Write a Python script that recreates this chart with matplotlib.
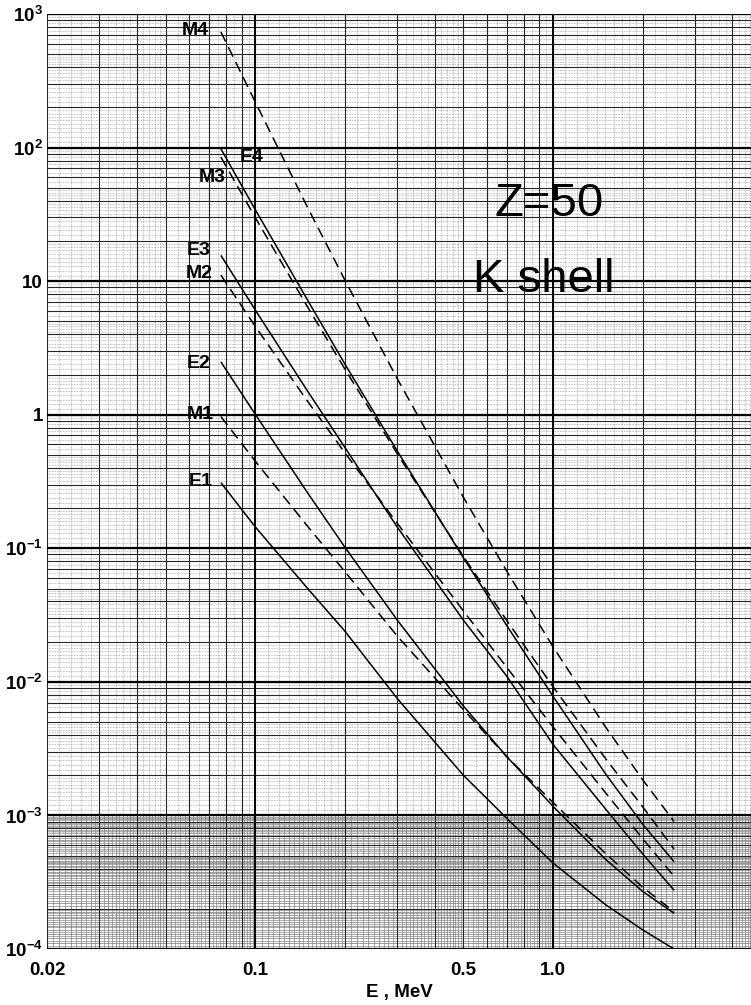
import numpy as np
import matplotlib
matplotlib.use("Agg")
import matplotlib.pyplot as plt

plt.rcParams['font.family'] = ['Liberation Sans', 'DejaVu Sans']
plt.rcParams['mathtext.fontset'] = 'custom'
plt.rcParams['mathtext.rm'] = 'Liberation Sans:bold'
plt.rcParams['mathtext.it'] = 'Liberation Sans:bold'
plt.rcParams['mathtext.bf'] = 'Liberation Sans:bold'

# K-shell internal conversion coefficients, Z = 50
energy = [0.0767, 0.1, 0.15, 0.2, 0.3, 0.5, 0.7, 1.0, 1.5, 2.0, 2.55]  # MeV

alpha_E1 = [0.31, 0.145, 0.050, 0.024, 0.0075, 0.0020, 9.5e-4, 4.4e-4, 2.15e-4, 1.39e-4, 1.0e-4]
alpha_E2 = [2.49, 1.01, 0.26, 0.102, 0.029, 6.6e-3, 2.75e-3, 1.17e-3, 4.7e-4, 2.7e-4, 1.85e-4]
alpha_E3 = [15.6, 6.1, 1.5, 0.57, 0.144, 0.029, 0.0110, 3.4e-3, 1.12e-3, 5.15e-4, 2.75e-4]
alpha_E4 = [98.0, 34.4, 7.2, 2.4, 0.535, 0.085, 0.0263, 7.8e-3, 2.05e-3, 8.6e-4, 4.5e-4]
alpha_M1 = [0.97, 0.45, 0.146, 0.067, 0.022, 6.2e-3, 2.75e-3, 1.25e-3, 5.2e-4, 2.9e-4, 1.9e-4]
alpha_M2 = [11.1, 4.6, 1.26, 0.52, 0.154, 0.034, 0.0128, 4.6e-3, 1.48e-3, 6.7e-4, 3.5e-4]
alpha_M3 = [85.0, 30.0, 6.4, 2.2, 0.51, 0.087, 0.0287, 9.2e-3, 2.67e-3, 1.16e-3, 5.6e-4]
alpha_M4 = [735.0, 220.0, 35.6, 10.2, 1.86, 0.241, 0.0672, 0.0183, 4.6e-3, 1.85e-3, 9.0e-4]

electric = {'E1': alpha_E1, 'E2': alpha_E2, 'E3': alpha_E3, 'E4': alpha_E4}
magnetic = {'M1': alpha_M1, 'M2': alpha_M2, 'M3': alpha_M3, 'M4': alpha_M4}

# curve label anchor positions (E, alpha)
label_pos = {
    'M4': (0.0628, 759.0), 'E4': (0.0975, 85.0), 'M3': (0.0716, 60.0),
    'E3': (0.0648, 17.1), 'M2': (0.0648, 11.5), 'E2': (0.0648, 2.44),
    'M1': (0.0654, 1.01), 'E1': (0.0656, 0.319),
}

y_ticks = [1e-4, 1e-3, 1e-2, 1e-1, 1, 10, 1e2, 1e3]
y_ticklabels = [r'10$^{-4}$', r'10$^{-3}$', r'10$^{-2}$', r'10$^{-1}$', '1', '10',
                r'10$^{2}$', r'10$^{3}$']
x_ticks = [0.02, 0.1, 0.5, 1.0]
x_ticklabels = ['0.02', '0.1', '0.5', '1.0']

fig = plt.figure(figsize=(7.51, 10.05), dpi=100)
ax = fig.add_axes([0.0626, 0.0557, 0.9374, 0.9303])
ax.set_xscale('log')
ax.set_yscale('log')
xlo, xhi = 0.02, 4.62
ylo, yhi = 1e-4, 1e3
ax.set_xlim(xlo, xhi)
ax.set_ylim(ylo, yhi)


def paper_values(lo, hi, fine_steps):
    """Rulings of log graph paper between lo and hi: (heavy, light) lists."""
    heavy, light = [], []
    for k in range(int(np.floor(np.log10(lo))) - 1, int(np.ceil(np.log10(hi))) + 1):
        base = 10.0 ** k
        for m in range(1, 10):
            heavy.append(m * base)
        for (a, b, s) in fine_steps:
            for m in np.arange(a, b - 1e-9, s):
                if abs(m - round(m)) > 1e-6:
                    light.append(m * base)
    heavy = [v for v in heavy if lo <= v <= hi]
    light = [v for v in light if lo <= v <= hi]
    return heavy, light


coarse = [(1.0, 2.0, 0.1), (2.0, 5.0, 0.2), (5.0, 10.0, 0.5)]
dense = [(1.0, 2.0, 0.05), (2.0, 5.0, 0.1), (5.0, 10.0, 0.2)]

# graph-paper ruling
xh, xl = paper_values(xlo, xhi, coarse)
yh, yl = paper_values(ylo, yhi, coarse)
ax.vlines(xl, ylo, yhi, colors='0.45', linewidth=0.45, linestyles=(0, (1, 1.5)), zorder=1)
ax.hlines(yl, xlo, xhi, colors='0.45', linewidth=0.45, linestyles=(0, (1, 1.5)), zorder=1)
# the lowest decade of the sheet is ruled more finely
_, xd = paper_values(xlo, xhi, dense)
ax.vlines(xd, 1e-4, 1.0e-3, colors='0.5', linewidth=0.45, zorder=1)
_, yd = paper_values(1e-4, 1e-3, dense)
ax.hlines(yd, xlo, xhi, colors='0.5', linewidth=0.45, zorder=1)
ax.vlines(xh, ylo, yhi, colors='0.15', linewidth=0.8, zorder=1)
ax.hlines(yh, xlo, xhi, colors='0.15', linewidth=0.8, zorder=1)
ax.hlines(y_ticks, xlo, xhi, colors='black', linewidth=1.6, zorder=1)
ax.vlines([0.1, 1.0], ylo, yhi, colors='black', linewidth=1.4, zorder=1)

for name, vals in electric.items():
    ax.plot(energy, vals, color='black', linewidth=1.1, solid_capstyle='butt', zorder=3)
for name, vals in magnetic.items():
    ax.plot(energy, vals, color='black', linewidth=1.1, linestyle=(0, (7, 4)), zorder=3)

for name, (xe, ya) in label_pos.items():
    ax.text(xe, ya, name, fontsize=14, fontweight='bold', ha='center', va='center',
            zorder=4)

ax.text(0.713, 0.797, 'Z=50', transform=ax.transAxes, fontsize=34, ha='center',
        va='center', zorder=4)
ax.text(0.706, 0.7155, 'K shell', transform=ax.transAxes, fontsize=34, ha='center',
        va='center', zorder=4)

ax.set_yticks(y_ticks)
ax.set_yticklabels(y_ticklabels, fontsize=13.5, fontweight='bold')
ax.set_xticks(x_ticks)
ax.set_xticklabels(x_ticklabels, fontsize=13.5, fontweight='bold')
ax.minorticks_off()
ax.tick_params(axis='y', length=0, pad=3)
ax.tick_params(axis='x', length=0, pad=9)
ax.set_xlabel('E , MeV', fontsize=13.5, fontweight='bold', labelpad=4)
for s in ax.spines.values():
    s.set_visible(False)

fig.savefig('out.png', dpi=100)
